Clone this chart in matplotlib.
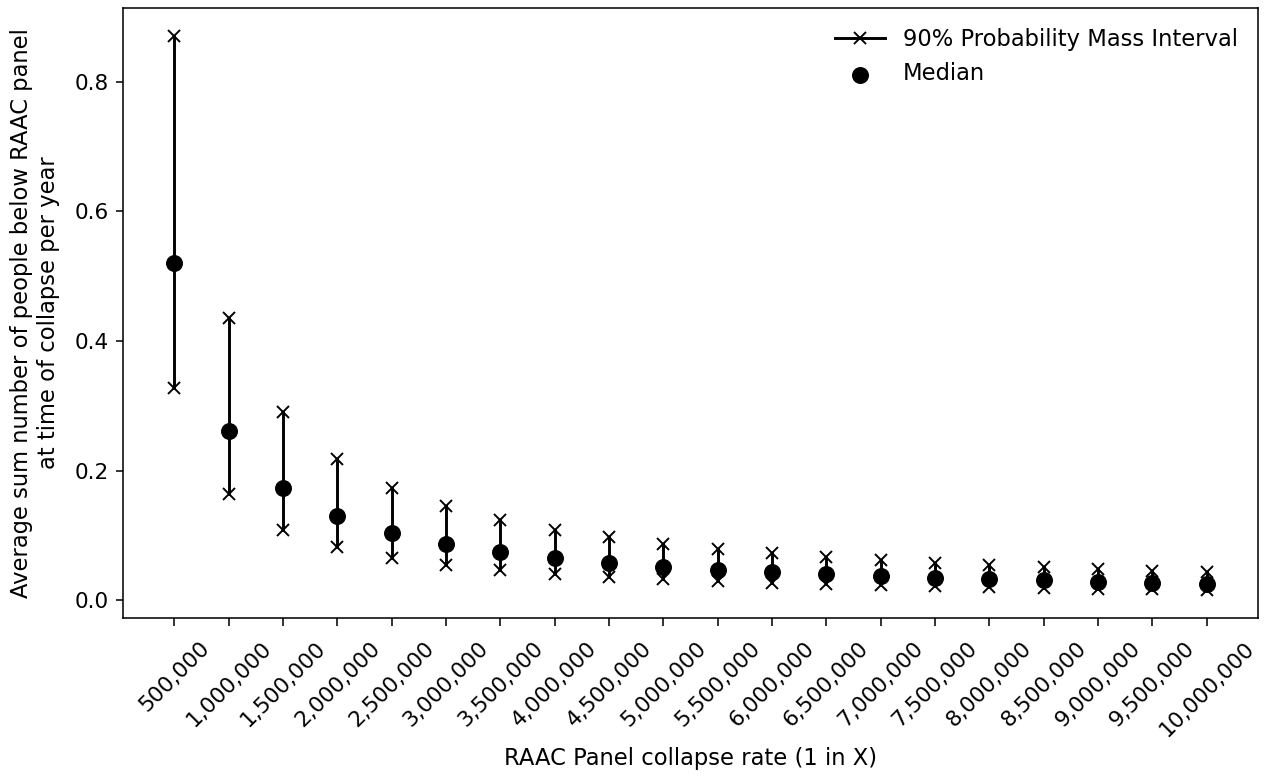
import matplotlib
matplotlib.use("Agg")
import matplotlib.pyplot as plt
import numpy as np

rates = [500000, 1000000, 1500000, 2000000, 2500000, 3000000, 3500000, 4000000,
         4500000, 5000000, 5500000, 6000000, 6500000, 7000000, 7500000, 8000000,
         8500000, 9000000, 9500000, 10000000]
median = [0.520, 0.261, 0.173, 0.130, 0.104, 0.087, 0.074, 0.065, 0.058, 0.052,
          0.047, 0.043, 0.040, 0.037, 0.035, 0.033, 0.031, 0.029, 0.027, 0.026]
upper = [0.871, 0.436, 0.290, 0.218, 0.174, 0.145, 0.124, 0.109, 0.097, 0.087,
         0.079, 0.073, 0.067, 0.062, 0.058, 0.054, 0.051, 0.048, 0.046, 0.044]
lower = [0.327, 0.164, 0.109, 0.082, 0.065, 0.055, 0.047, 0.041, 0.036, 0.033,
         0.030, 0.027, 0.025, 0.023, 0.022, 0.020, 0.019, 0.018, 0.017, 0.016]
tick_labels = [f"{r:,}" for r in rates]

S = 1.4
plt.rcParams.update({
    "axes.linewidth": 0.8 * S,
    "xtick.major.width": 0.8 * S,
    "ytick.major.width": 0.8 * S,
    "xtick.major.size": 4.2 * S,
    "ytick.major.size": 3.5 * S,
    "xtick.major.pad": 6.0 * S,
    "ytick.major.pad": 3.5 * S,
})

fig = plt.figure(figsize=(12.66, 7.78), dpi=100)
ax = fig.add_axes([0.097, 0.206, 0.897, 0.784])

for i, (r, lo, hi) in enumerate(zip(rates, lower, upper)):
    ax.plot([r, r], [lo, hi], color="black", marker="x", markersize=6.5 * S,
            markeredgewidth=1.0 * S, linewidth=1.5 * S,
            label="90% Probability Mass Interval" if i == 0 else None)
ax.scatter(rates, median, color="black", s=(8 * S) ** 2, zorder=3, label="Median")

ax.set_xticks(rates)
ax.set_xticklabels(tick_labels, rotation=45, fontsize=15.7)
ax.tick_params(axis="y", labelsize=15.5)
ax.set_xlabel("RAAC Panel collapse rate (1 in X)", fontsize=16.3, labelpad=5)
ax.set_ylabel("Average sum number of people below RAAC panel\nat time of collapse per year", fontsize=16.3,
              labelpad=11)
ax.legend(loc="upper right", frameon=False, fontsize=16.3, handlelength=2.2)

fig.savefig("out.png", dpi=100)
